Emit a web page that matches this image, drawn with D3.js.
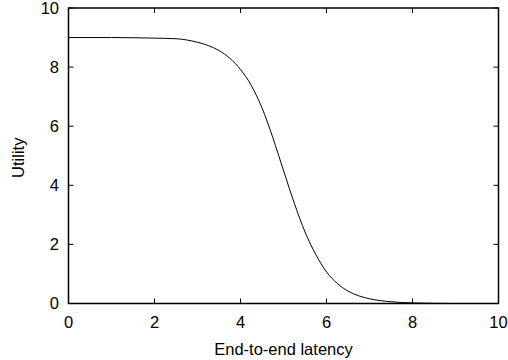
<!DOCTYPE html>
<html>
<head>
<meta charset="utf-8">
<script src="https://cdn.jsdelivr.net/npm/d3@7"></script>
<style>
  html, body { margin: 0; padding: 0; background: #fff; }
  svg { display: block; }
  text { font-family: "Liberation Sans", Arial, sans-serif; fill: #000; }
</style>
</head>
<body>
<svg id="chart" width="508" height="360"></svg>
<script>
// Utility as a function of end-to-end latency
const latency = [0, 1, 2, 2.5, 3, 3.25, 3.5, 3.75, 4, 4.25, 4.5, 4.75, 5, 5.25, 5.5, 5.75, 6, 6.25, 6.5, 6.75, 7, 7.5, 8, 9, 10];
const utility = [9.0, 9.0, 8.98, 8.96, 8.84, 8.73, 8.56, 8.30, 7.92, 7.38, 6.62, 5.62, 4.5, 3.40, 2.42, 1.66, 1.07, 0.68, 0.42, 0.26, 0.16, 0.06, 0.02, 0.0, 0.0];

const xTicks = [0, 2, 4, 6, 8, 10];
const yTicks = [0, 2, 4, 6, 8, 10];
const xTitle = "End-to-end latency";
const yTitle = "Utility";

const svg = d3.select("#chart");
const plotL = 68.5, plotR = 498.5, plotT = 8, plotB = 303.5;

const x = d3.scaleLinear().domain([0, 10]).range([plotL, plotR]);
const y = d3.scaleLinear().domain([0, 10]).range([plotB, plotT]);

const tickLen = 5;
const fontSize = 16.5;

// Inward ticks on all four sides
const g = svg.append("g").attr("stroke", "#000").attr("stroke-width", 1);
g.selectAll(".xb").data(xTicks).join("line")
  .attr("x1", d => x(d)).attr("x2", d => x(d))
  .attr("y1", plotB).attr("y2", plotB - tickLen);
g.selectAll(".xt").data(xTicks).join("line")
  .attr("x1", d => x(d)).attr("x2", d => x(d))
  .attr("y1", plotT).attr("y2", plotT + tickLen);
g.selectAll(".yl").data(yTicks).join("line")
  .attr("x1", plotL).attr("x2", plotL + tickLen)
  .attr("y1", d => y(d)).attr("y2", d => y(d));
g.selectAll(".yr").data(yTicks).join("line")
  .attr("x1", plotR).attr("x2", plotR - tickLen)
  .attr("y1", d => y(d)).attr("y2", d => y(d));

// Curve
const line = d3.line()
  .x((d, i) => x(latency[i]))
  .y(d => y(d))
  .curve(d3.curveMonotoneX);
svg.append("path")
  .attr("d", line(utility))
  .attr("fill", "none")
  .attr("stroke", "#000")
  .attr("stroke-width", 1);

// Frame
svg.append("rect")
  .attr("x", plotL).attr("y", plotT)
  .attr("width", plotR - plotL).attr("height", plotB - plotT)
  .attr("fill", "none").attr("stroke", "#000").attr("stroke-width", 1.5);

// Tick labels
svg.selectAll(".xl").data(xTicks).join("text")
  .attr("x", d => x(d)).attr("y", 328)
  .attr("text-anchor", "middle")
  .attr("font-size", fontSize)
  .text(d => d);
svg.selectAll(".ylab").data(yTicks).join("text")
  .attr("x", 59).attr("y", d => y(d))
  .attr("dy", "0.36em")
  .attr("text-anchor", "end")
  .attr("font-size", fontSize)
  .text(d => d);

// Axis titles
svg.append("text")
  .attr("x", (plotL + plotR) / 2).attr("y", 355)
  .attr("text-anchor", "middle")
  .attr("font-size", fontSize)
  .text(xTitle);
svg.append("text")
  .attr("transform", `translate(24, ${(plotT + plotB) / 2 + 2}) rotate(-90)`)
  .attr("text-anchor", "middle")
  .attr("font-size", fontSize)
  .text(yTitle);
</script>
</body>
</html>
